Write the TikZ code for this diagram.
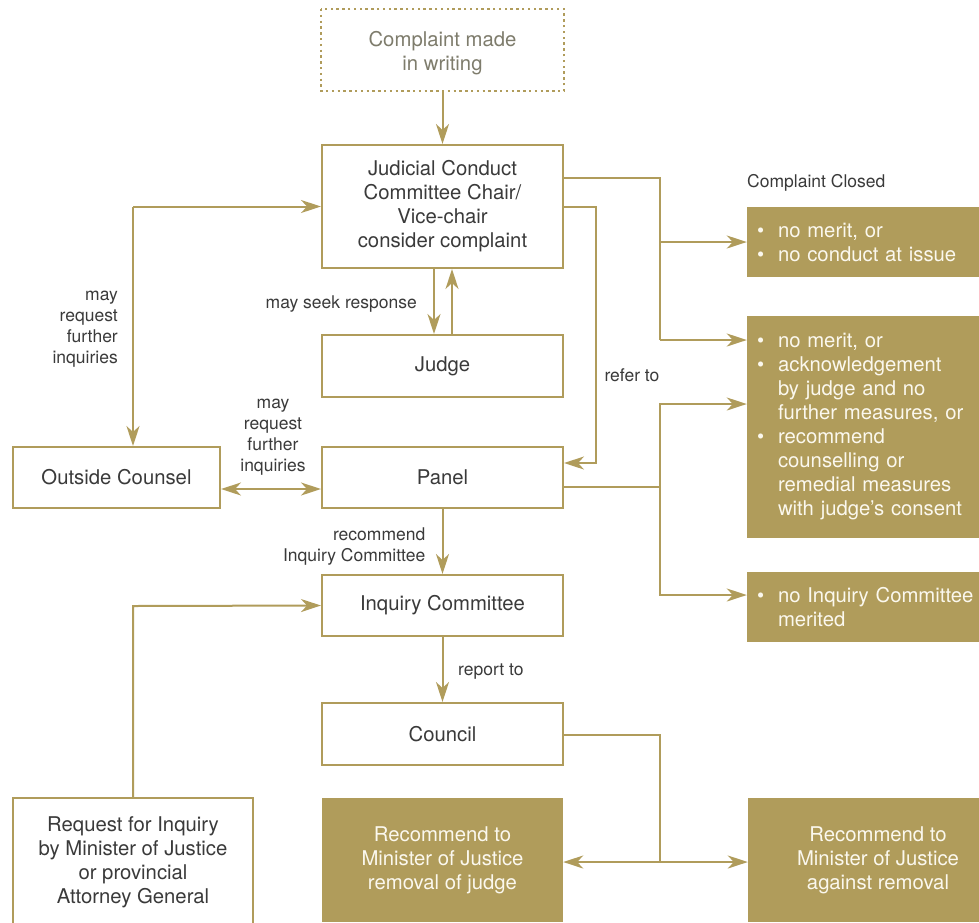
\documentclass[tikz,border=0pt]{standalone}
\usepackage{fontspec}
\setmainfont{TeX Gyre Heros}
\usetikzlibrary{arrows.meta}
\definecolor{gold}{HTML}{B09C5B}
\definecolor{txt}{HTML}{3A3A3A}
\definecolor{greytxt}{HTML}{7E7C6C}
\definecolor{paletxt}{HTML}{FBF8EE}
\newcommand\bul{\makebox[21pt][l]{•}}
\newcommand\ind{\hspace*{21pt}}
\begin{document}
\begin{tikzpicture}[x=1pt,y=-1pt,
  box/.style={draw=gold, line width=2pt, fill=white, text=txt, align=center,
    font=\fontsize{20.3}{24}\selectfont, inner sep=0pt},
  fbox/.style={fill=gold, text=paletxt, font=\fontsize{20.3}{24}\selectfont, inner sep=0pt},
  lbox/.style={fbox, align=left, text width=240pt, inner xsep=10pt, inner ysep=0pt},
  lab/.style={text=txt, font=\fontsize{17.5}{21}\selectfont, inner sep=0pt},
  line/.style={draw=gold, line width=2pt},
  arr/.style={line, -{Stealth[length=20pt,width=13pt,inset=6pt]}},
  darr/.style={line, {Stealth[length=20pt,width=13pt,inset=6pt]}-{Stealth[length=20pt,width=13pt,inset=6pt]}}]
\useasboundingbox (0,0) rectangle (979,922);
% boxes
\node[box, draw=none, text=greytxt, minimum width=241, minimum height=86] (top) at (442.5,53) {Complaint made\\in writing};
\draw[draw=gold, line width=2.6pt, dash pattern=on 2.4pt off 3.4pt] (top.north west) rectangle ([yshift=6pt]top.south east);
\node[box, minimum width=241, minimum height=123] (jcc) at (442.5,206.5) {Judicial Conduct\\Committee Chair/\\Vice-chair\\consider complaint};
\node[box, minimum width=241, minimum height=62] (judge) at (442.5,366) {Judge};
\node[box, minimum width=241, minimum height=61] (panel) at (442.5,477.5) {Panel};
\node[box, minimum width=207, minimum height=61] (oc) at (116.5,477.5) {Outside Counsel};
\node[box, minimum width=241, minimum height=61] (inq) at (442.5,605.5) {Inquiry Committee};
\node[box, minimum width=241, minimum height=62] (council) at (442.5,734) {Council};
\node[box, minimum width=240, minimum height=128] (req) at (133,862) {Request for Inquiry\\by Minister of Justice\\or provincial\\Attorney General};
\node[fbox, align=center, minimum width=241, minimum height=124] (rem) at (442.5,860) {Recommend to\\Minister of Justice\\removal of judge};
\node[fbox, align=center, minimum width=260, minimum height=124] (ag) at (878,860) {Recommend to\\Minister of Justice\\against removal};
\node[lbox, minimum height=70] (b1) at (877,242) {\bul no merit, or\\\bul no conduct at issue};
\node[lbox, minimum height=222] (b2) at (877,427) {\bul no merit, or\\\bul acknowledgement\\\ind by judge and no\\\ind further measures, or\\\bul recommend\\\ind counselling or\\\ind remedial measures\\\ind with judge’s consent};
\node[lbox, minimum height=70] (b3) at (877,607) {\bul no Inquiry Committee\\\ind merited};
% labels
\node[lab, anchor=west] (closed) at (747,183) {Complaint Closed};
\node[lab, anchor=east] (seek) at (417,304) {may seek response};
\node[lab, anchor=east, align=right] (mayL) at (118,329) {may\\request\\further\\inquiries};
\node[lab, align=center] (mayM) at (273,437) {may\\request\\further\\inquiries};
\node[lab] (refer) at (632,375) {refer to};
\node[lab, anchor=east, align=right] (recom) at (425.5,547) {recommend\\Inquiry Committee};
\node[lab, anchor=west] (report) at (458,672) {report to};
% coordinates
\coordinate (c1) at (660,178);
\coordinate (c2) at (660,340);
\coordinate (r1) at (596,207);
\coordinate (r2) at (596,463);
\coordinate (p1) at (660,487);
\coordinate (p2) at (660,404);
\coordinate (p3) at (660,595);
\coordinate (l1) at (133,206.5);
\coordinate (m1) at (271,489);
\coordinate (q1) at (133,606);
\coordinate (k1) at (660,735);
\coordinate (k2) at (660,862);
% connectors
\draw[arr] ([yshift=6pt]top.south) -- (jcc);
\draw[line] (jcc.east |- c1) -- (c1) -- (c2);
\draw[arr] (b1.west -| c1) -- (b1.west);
\draw[arr] (c2) -- (c2 -| b2.west);
\draw[arr] (jcc.east |- r1) -- (r1) -- (r2) -- (r2 -| panel.east);
\draw[line] (panel.east |- p1) -- (p1);
\draw[arr] (p1) -- (p2) -- (p2 -| b2.west);
\draw[arr] (p1) -- (p3) -- (p3 -| b3.west);
\draw[arr] ([xshift=-8.5pt]jcc.south) -- ([xshift=-8.5pt]judge.north);
\draw[arr] ([xshift=9.5pt]judge.north) -- ([xshift=9.5pt]jcc.south);
\draw[arr] (l1) -- (jcc.west);
\draw[arr] (l1) -- (l1 |- oc.north);
\draw[darr] (m1 -| oc.east) -- (m1 -| panel.west);
\draw[arr] (panel) -- (inq);
\draw[arr] (q1 |- req.north) -- (q1) -- (inq.west);
\draw[arr] (inq) -- (council);
\draw[line] (council.east |- k1) -- (k1) -- (k2);
\draw[arr] (k2) -- (k2 -| rem.east);
\draw[arr] (k2) -- (k2 -| ag.west);
\end{tikzpicture}
\end{document}
